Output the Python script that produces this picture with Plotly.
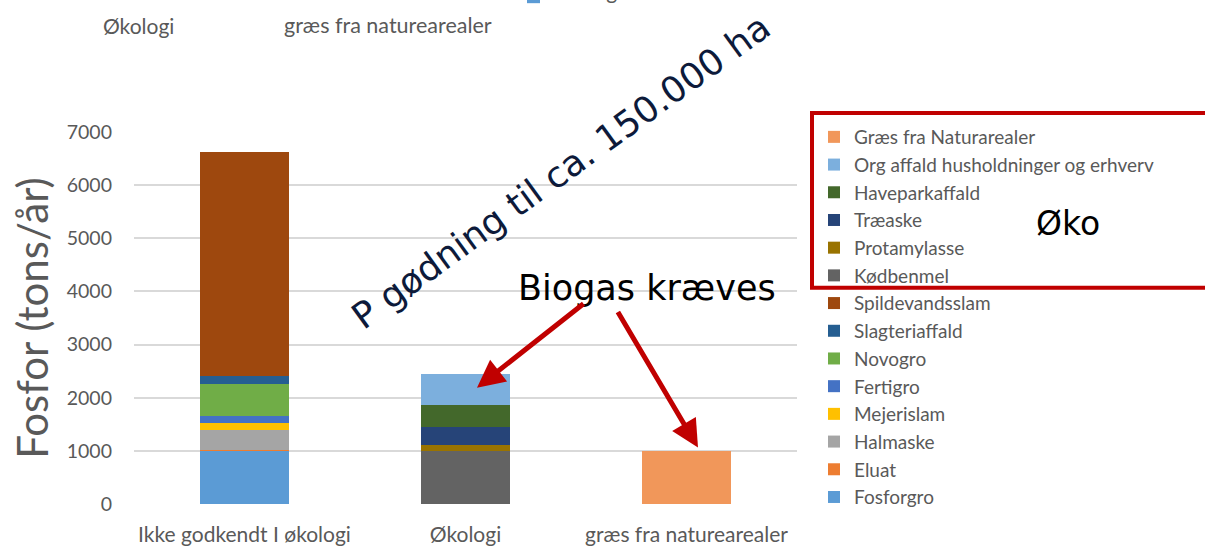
import plotly.graph_objects as go

# data (tons P / year)
categories = ["Ikke godkendt I økologi", "Økologi", "græs fra naturearealer"]

fosforgro = [1000, 0, 0]
eluat = [25, 0, 0]
halmaske = [360, 0, 0]
mejerislam = [140, 0, 0]
fertigro = [140, 0, 0]
novogro = [600, 0, 0]
slagteriaffald = [150, 0, 0]
spildevandsslam = [4200, 0, 0]
koedbenmel = [0, 1000, 0]
protamylasse = [0, 115, 0]
traeaske = [0, 340, 0]
haveparkaffald = [0, 410, 0]
org_affald = [0, 590, 0]
graes = [0, 0, 1000]

y_ticks = [0, 1000, 2000, 3000, 4000, 5000, 6000, 7000]

# stacking order bottom -> top
series = [
    ("Fosforgro", fosforgro, "#5b9bd5"),
    ("Eluat", eluat, "#ed7d31"),
    ("Halmaske", halmaske, "#a5a5a5"),
    ("Mejerislam", mejerislam, "#ffc000"),
    ("Fertigro", fertigro, "#4472c4"),
    ("Novogro", novogro, "#70ad47"),
    ("Slagteriaffald", slagteriaffald, "#255e91"),
    ("Spildevandsslam", spildevandsslam, "#9e480e"),
    ("Kødbenmel", koedbenmel, "#636363"),
    ("Protamylasse", protamylasse, "#997300"),
    ("Træaske", traeaske, "#264478"),
    ("Haveparkaffald", haveparkaffald, "#43682b"),
    ("Org affald husholdninger og erhverv", org_affald, "#7cafdd"),
    ("Græs fra Naturarealer", graes, "#f1975a"),
]

# layout is worked out in window pixels (body margin removed below)
W, H = 1205, 546
PLOT_L, PLOT_R, PLOT_T, PLOT_B = 134, 797, 132, 504.5
PW, PH = PLOT_R - PLOT_L, PLOT_B - PLOT_T


def px(x):
    return (x - PLOT_L) / PW


def py(y):
    return (PLOT_B - y) / PH


GRAY = "#595959"
BODY = "Lato, 'Liberation Sans', sans-serif"
DECO = "'DejaVu Sans', sans-serif"

fig = go.Figure()
n = len(series)
for i, (name, vals, color) in enumerate(series):
    fig.add_trace(go.Bar(
        x=categories, y=vals, name=name,
        legendrank=n - i,  # top of stack listed first
        marker=dict(color=color, line=dict(width=0)),
        width=0.4,
    ))

fig.update_layout(
    width=W, height=H,
    barmode="stack",
    plot_bgcolor="white", paper_bgcolor="white",
    margin=dict(l=PLOT_L, r=W - PLOT_R, t=PLOT_T, b=H - PLOT_B, pad=0, autoexpand=False),
    font=dict(family=BODY, size=20, color=GRAY),
    xaxis=dict(showgrid=False, showline=False, ticks="", ticklabelstandoff=16,
               automargin=False, tickfont=dict(size=21, color=GRAY)),
    yaxis=dict(range=[0, 7000], tickvals=y_ticks, gridcolor="#d9d9d9", gridwidth=1.5,
               zeroline=False, showline=False, ticks="", ticklabelstandoff=21,
               automargin=False, tickfont=dict(size=19.5, color=GRAY),
               title=dict(text="Fosfor (tons/år)", font=dict(size=42, color=GRAY), standoff=5)),
    legend=dict(x=px(814), y=py(118), xanchor="left", yanchor="top",
                traceorder="normal", maxheight=520,
                font=dict(size=19, color=GRAY), bgcolor="rgba(0,0,0,0)"),
    showlegend=True,
)

# red frame around the organic-approved sources (runs off the right edge)
fig.add_shape(type="rect", xref="paper", yref="paper",
              x0=px(812), x1=px(1215), y0=py(113), y1=py(288),
              line=dict(color="#c00000", width=4))

# cut-off legend swatch of a chart above
fig.add_shape(type="rect", xref="paper", yref="paper",
              x0=px(527), x1=px(540), y0=py(-10), y1=py(3),
              line=dict(width=0), fillcolor="#5b9bd5")

annotations = [
    # leftover text from the slide at the top
    dict(x=px(138), y=py(25), text="Økologi", font=dict(size=21, color=GRAY, family=BODY)),
    dict(x=px(388), y=py(25), text="græs fra naturearealer", font=dict(size=21.5, color=GRAY, family=BODY)),
    dict(x=px(546), y=py(-10), text="Fosforgro", xanchor="left",
         font=dict(size=21, color=GRAY, family=BODY)),
    # slide annotations
    dict(x=px(561), y=py(172), text="P gødning til ca. 150.000 ha", textangle=-36,
         font=dict(size=36, color="#0d1a3a", family=DECO)),
    dict(x=px(647), y=py(288), text="Biogas kræves", font=dict(size=35, color="black", family=DECO)),
    dict(x=px(1068), y=py(224), text="Øko", font=dict(size=33, color="black", family=DECO)),
]
for a in annotations:
    a.setdefault("xanchor", "center")
    a.update(xref="paper", yref="paper", showarrow=False, yanchor="middle")
    fig.add_annotation(**a)

# red arrows
for tip, tail in [((477, 388), (585, 303)), ((698, 448), (617, 311))]:
    fig.add_annotation(x=px(tip[0]), y=py(tip[1]), xref="paper", yref="paper",
                       ax=tail[0] - tip[0], ay=tail[1] - tip[1], text="",
                       showarrow=True, arrowhead=2, arrowsize=1.1, arrowwidth=5,
                       arrowcolor="#c00000")

fig.write_html("out.html", config={"displayModeBar": False},
               post_script="document.body.style.margin = '0';")
